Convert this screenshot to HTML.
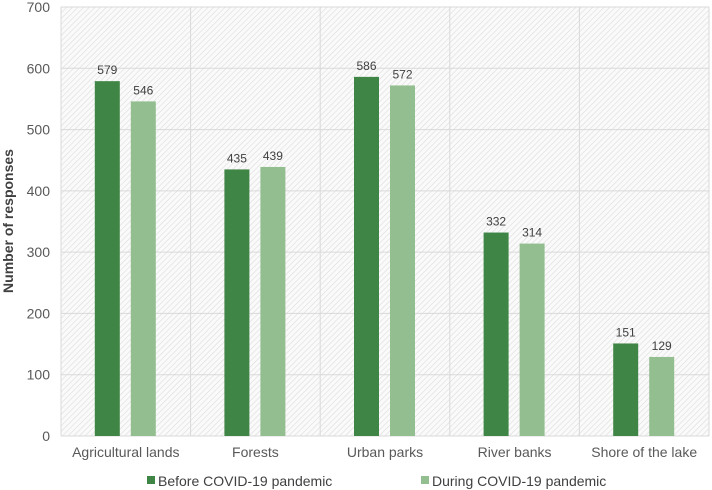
<!DOCTYPE html>
<html><head><meta charset="utf-8"><style>
body{margin:0;background:#fff;}
svg{display:block;font-family:"Liberation Sans",Arial,sans-serif;}
</style></head><body>
<svg id="chart" width="712" height="490" viewBox="0 0 712 490">
<defs>
<pattern id="hatch" patternUnits="userSpaceOnUse" width="4" height="4" patternTransform="rotate(45)">
<rect width="4" height="4" fill="#fafafa"/>
<line x1="0" y1="0" x2="0" y2="4" stroke="#dcdcdc" stroke-width="1.2"/>
</pattern>
</defs>
<rect x="61" y="7" width="648" height="429" fill="url(#hatch)"/>
<g id="grid"></g>
<g id="bars"></g>
<g id="labels"></g>
<text transform="translate(13,221) rotate(-90)" text-anchor="middle" font-size="14" font-weight="bold" fill="#404040">Number of responses</text>
<g>
<rect x="147" y="476" width="8" height="8" fill="#3f8546"/>
<text x="158" y="486" font-size="14" fill="#404040">Before COVID-19 pandemic</text>
<rect x="421" y="476" width="8" height="8" fill="#93bf90"/>
<text x="432" y="486" font-size="14" fill="#404040">During COVID-19 pandemic</text>
</g>
</svg>
<script>
const categories=["Agricultural lands","Forests","Urban parks","River banks","Shore of the lake"];
const before=[579,435,586,332,151];
const during=[546,439,572,314,129];
const yTicks=[0,100,200,300,400,500,600,700];
(function(){
const NS="http://www.w3.org/2000/svg";
const pLeft=61,pRight=709,pTop=7,pBottom=436,yMax=700;
const y=v=>pBottom-(v/yMax)*(pBottom-pTop);
const cw=(pRight-pLeft)/categories.length;
const cx=i=>pLeft+cw*(i+0.5);
function mk(tag,attrs,parent){const e=document.createElementNS(NS,tag);for(const k in attrs)e.setAttribute(k,attrs[k]);parent.appendChild(e);return e;}
const grid=document.getElementById('grid'),bars=document.getElementById('bars'),labels=document.getElementById('labels');
yTicks.forEach(t=>{
 const l=mk('line',{x1:pLeft,x2:pRight,y1:y(t),y2:y(t),stroke:'#d9d9d9','stroke-width':1},grid);
 
 
 const tx=mk('text',{x:50,y:y(t)+5,'text-anchor':'end','font-size':14,fill:'#595959'},labels);
 tx.textContent=t;
 
 
});
for(let i=0;i<=categories.length;i++){
 const l=mk('line',{x1:pLeft+cw*i,x2:pLeft+cw*i,y1:pTop,y2:pBottom,stroke:'#d9d9d9','stroke-width':1},grid);
 
 
}
categories.forEach((c,i)=>{
 [[before,'#3f8546',-31,'before'],[during,'#93bf90',5,'during']].forEach(([arr,col,off,nm])=>{
  const v=arr[i];
  const r=mk('rect',{x:cx(i)+off,y:y(v),width:25,height:pBottom-y(v),fill:col},bars);
  
  
  const t=mk('text',{x:cx(i)+off+12.5,y:y(v)-7,'text-anchor':'middle','font-size':12,fill:'#404040'},labels);
  t.textContent=v;
  
  
 });
 const t=mk('text',{x:cx(i),y:457,'text-anchor':'middle','font-size':14,fill:'#595959'},labels);
 t.textContent=c;
 
 
});
})();
</script>
</body></html>
